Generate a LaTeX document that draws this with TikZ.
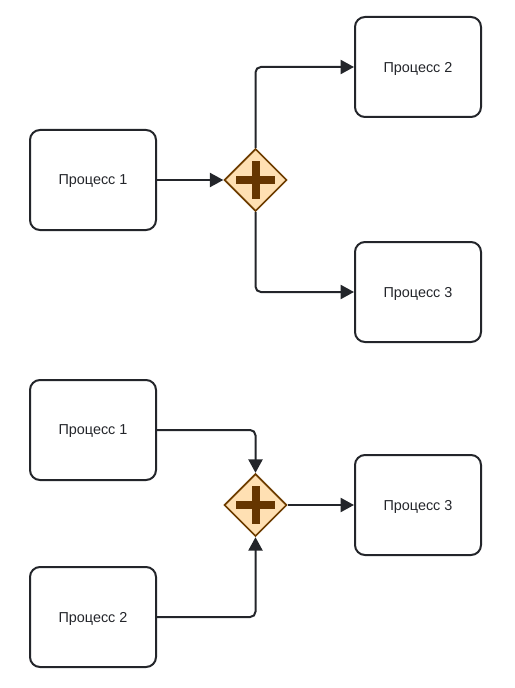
\documentclass[tikz,border=0pt]{standalone}
\usepackage{fontspec}
\setmainfont{Liberation Sans}
\usetikzlibrary{arrows.meta,shapes.geometric}
\definecolor{linec}{HTML}{23252A}
\definecolor{gwfill}{HTML}{FFE0B3}
\definecolor{gwdraw}{HTML}{6E3D00}
\definecolor{plusc}{HTML}{663600}
\tikzset{
  proc/.style={draw=linec, line width=1.5pt, rounded corners=7.5pt, minimum width=94.5pt, minimum height=75pt, inner sep=0pt, text=linec, text depth=0pt, font=\fontsize{10.8}{12}\selectfont},
  gateway/.style={diamond, aspect=1, draw=gwdraw, fill=gwfill, line width=1.3pt, minimum width=47pt, minimum height=47pt, inner sep=0pt,
    path picture={
      \fill[plusc, shift={(path picture bounding box.center)}] (-14.6pt,-3pt) rectangle (14.6pt,3pt);
      \fill[plusc, shift={(path picture bounding box.center)}] (-3pt,-14.6pt) rectangle (3pt,14.6pt);
    }},
  conn/.style={draw=linec, line width=1.5pt, rounded corners=4pt, -{Triangle[length=10pt,width=10.5pt]}},
}
\begin{document}
\begin{tikzpicture}[x=0.75pt,y=-0.75pt]
\useasboundingbox (0,0) rectangle (514,688);
% upper diagram
\node[proc] (p1) at (93,180) {Процесс 1};
\node[gateway] (g1) at (255.5,180) {};
\node[proc] (p2) at (418,67) {Процесс 2};
\node[proc] (p3) at (418,292) {Процесс 3};
\draw[conn] (p1.east) -- (g1.west);
\draw[conn] (g1.north) |- (p2.west);
\draw[conn] (g1.south) |- (p3.west);
% lower diagram
\node[proc] (q1) at (93,430) {Процесс 1};
\node[proc] (q2) at (93,617) {Процесс 2};
\node[gateway] (g2) at (255.5,505) {};
\node[proc] (q3) at (418,505) {Процесс 3};
\draw[conn] (q1.east) -| (g2.north);
\draw[conn] (q2.east) -| (g2.south);
\draw[conn] (g2.east) -- (q3.west);
\end{tikzpicture}
\end{document}
